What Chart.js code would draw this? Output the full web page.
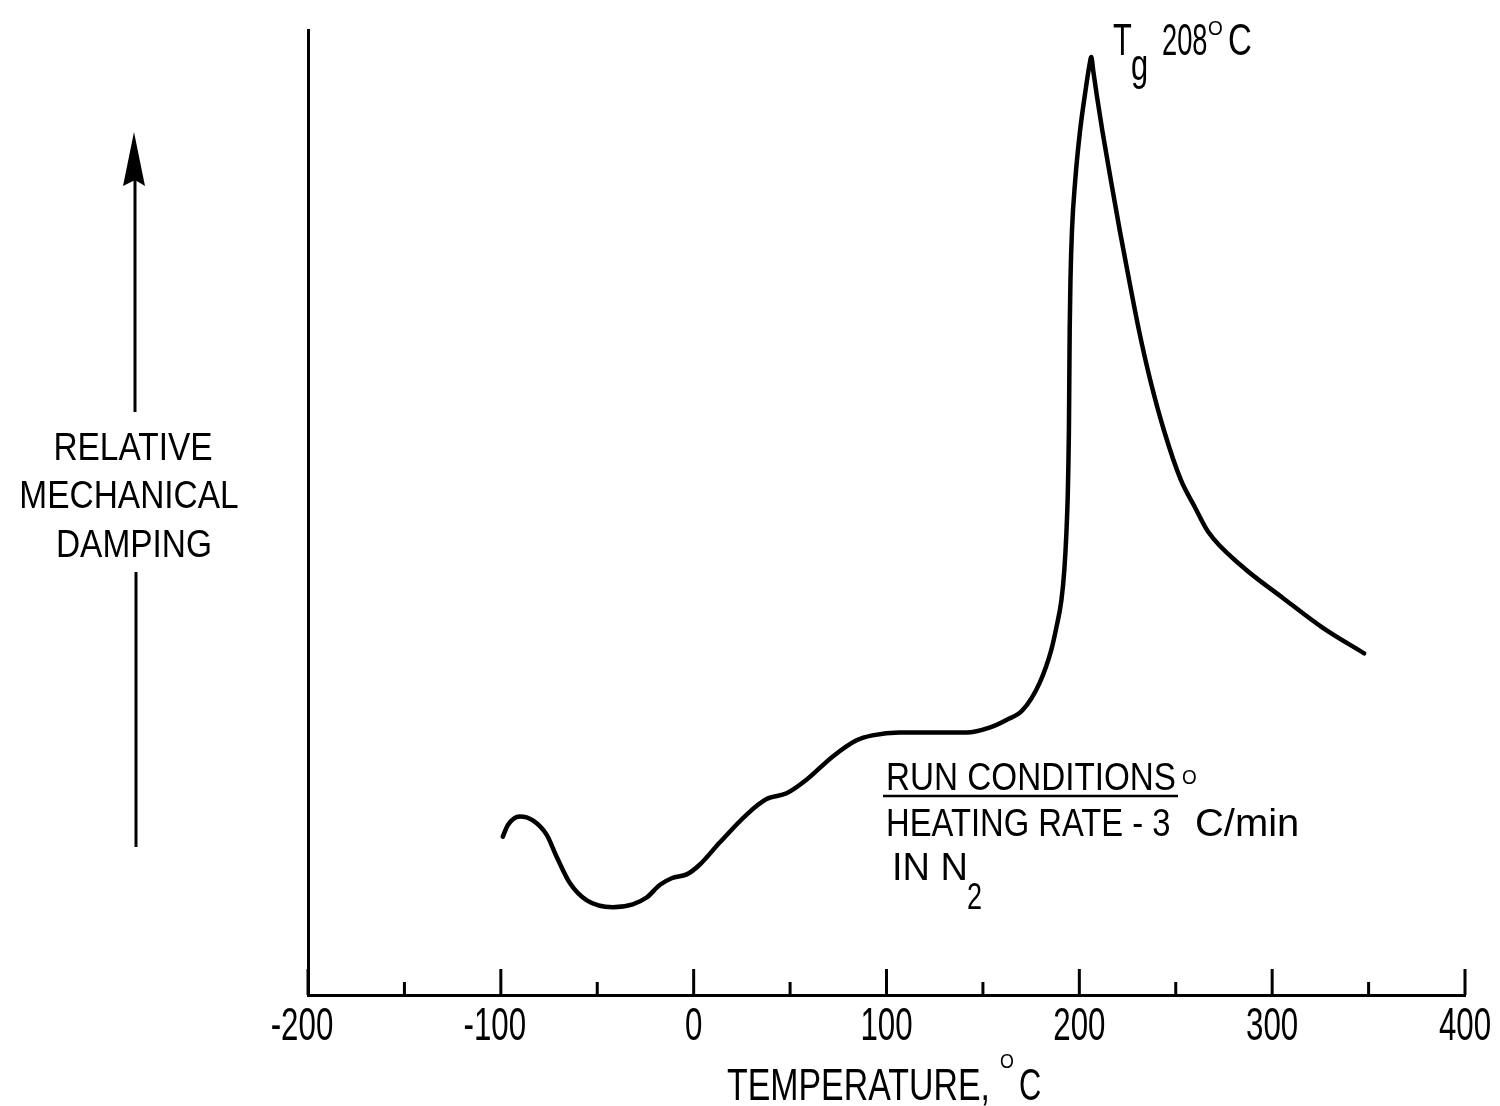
<!DOCTYPE html>
<html lang="en">
<head>
<meta charset="UTF-8">
<title>Relative mechanical damping vs temperature</title>
<script src="https://cdn.jsdelivr.net/npm/chart.js"></script>
<style>
  body { margin: 0; background: #fff; }
  canvas { display: block; }
</style>
</head>
<body>
<canvas id="dampingChart" width="1500" height="1106"></canvas>
<script>
// curve (temperature in deg C, damping in relative units 0-100)
const temperature = [-99, -96.4, -90.2, -83.4, -76.2, -71, -64.2, -55.4, -42, -31.6,
  -24.4, -17.6, -11.4, -3.6, 3.1, 13.5, 27.5, 37.8, 48.2, 58.5,
  72, 84.5, 92.7, 106.7, 123.8, 141.5, 153.4, 162.2, 170.5, 179.3,
  185.5, 188.1, 190.7, 192.2, 193.3, 194.0, 194.3, 194.6, 194.8, 195.0,
  195.4, 196.2, 197.9, 200.4, 202.9, 205.2, 206.2, 207.2, 209.0, 211.9,
  216.3, 220.9, 225.8, 230.9, 236.8, 243.9, 252.6, 259.8, 266.8, 284.5,
  305.2, 325.9, 347.7];
const damping = [16.4, 17.6, 18.5, 18.1, 16.6, 14.3, 11.6, 9.8, 9.1, 9.4,
  10.1, 11.4, 12.1, 12.5, 13.5, 15.8, 18.7, 20.3, 20.9, 22.3,
  24.7, 26.4, 26.9, 27.2, 27.2, 27.2, 27.7, 28.5, 29.5, 32.3,
  35.8, 38.1, 40.9, 44.0, 47.9, 51.8, 54.7, 58.5, 63.7, 68.9,
  74.1, 79.3, 84.5, 89.6, 93.3, 96.3, 97.2, 95.8, 93.3, 89.6,
  84.5, 79.3, 74.1, 68.9, 63.7, 58.5, 53.4, 50.6, 48.0, 44.4,
  41.2, 38.1, 35.4];
const tickLabels = ['-200', '-100', '0', '100', '200', '300', '400'];

const FONT = '"Liberation Sans", Arial, sans-serif';

// draw horizontally squeezed text (the original uses a condensed face)
function txt(ctx, s, x, y, size, sx, align) {
    ctx.save();
    ctx.font = size + 'px ' + FONT;
    ctx.fillStyle = '#000';
    ctx.textBaseline = 'alphabetic';
    ctx.textAlign = align || 'left';
    ctx.translate(x, y);
    ctx.scale(sx, 1);
    ctx.fillText(s, 0, 0);
    const w = ctx.measureText(s).width * sx;
    ctx.restore();
    return w;
}

const decorations = {
    id: 'decorations',
    afterDraw(chart) {
        const ctx = chart.ctx;
        const xs = chart.scales.x;
        const bottom = chart.chartArea.bottom;

        // tick marks point up into the plot, long every 100, short every 50
        ctx.save();
        ctx.strokeStyle = '#000';
        ctx.lineWidth = 3;
        xs.ticks.forEach(t => {
            const px = xs.getPixelForValue(t.value);
            const len = t.value % 100 === 0 ? 26 : 13;
            ctx.beginPath();
            ctx.moveTo(px, bottom);
            ctx.lineTo(px, bottom - len);
            ctx.stroke();
        });
        ctx.restore();

        xs.ticks.forEach(t => {
            const label = String(t.value);
            if (!tickLabels.includes(label)) return;
            const shift = t.value < 0 ? -6 : 0;
            txt(ctx, label, xs.getPixelForValue(t.value) + shift, 1040, 46, 0.68, 'center');
        });

        // x axis title
        txt(ctx, 'TEMPERATURE,', 727, 1100, 44, 0.77);
        txt(ctx, 'O', 1000, 1068, 21, 0.85);
        txt(ctx, 'C', 1019, 1100, 44, 0.7);

        // y label with arrow
        txt(ctx, 'RELATIVE', 133, 460, 38, 0.88, 'center');
        txt(ctx, 'MECHANICAL', 129, 508, 38, 0.88, 'center');
        txt(ctx, 'DAMPING', 134, 557, 38, 0.88, 'center');
        ctx.save();
        ctx.strokeStyle = '#000';
        ctx.lineWidth = 3;
        ctx.beginPath();
        ctx.moveTo(135, 180); ctx.lineTo(135, 412);
        ctx.moveTo(136, 572); ctx.lineTo(136, 847);
        ctx.stroke();
        ctx.beginPath();
        ctx.moveTo(134, 132);
        ctx.lineTo(145, 186);
        ctx.lineTo(135, 180);
        ctx.lineTo(123, 186);
        ctx.closePath();
        ctx.fillStyle = '#000';
        ctx.fill();
        ctx.restore();

        // glass transition label
        txt(ctx, 'T', 1113, 55, 44, 0.7);
        txt(ctx, 'g', 1131, 80, 44, 0.7);
        txt(ctx, '208', 1162, 55, 44, 0.62);
        txt(ctx, 'O', 1208, 35, 20, 0.95);
        txt(ctx, 'C', 1228, 55, 44, 0.75);

        // run conditions note
        const w = txt(ctx, 'RUN CONDITIONS', 886, 790, 38, 0.875);
        ctx.save();
        ctx.strokeStyle = '#000';
        ctx.lineWidth = 2.5;
        ctx.beginPath();
        ctx.moveTo(883, 796);
        ctx.lineTo(886 + w + 2, 796);
        ctx.stroke();
        ctx.restore();
        txt(ctx, 'O', 1182, 784, 21, 0.9);
        txt(ctx, 'HEATING RATE - 3', 886, 836, 38, 0.862);
        txt(ctx, 'C/min', 1195, 836, 38, 1.05);
        txt(ctx, 'IN N', 892, 880, 38, 1.0);
        txt(ctx, '2', 967, 909, 36, 0.75);
    }
};

const ctx = document.getElementById('dampingChart').getContext('2d');
const dampingChart = new Chart(ctx, {
    type: 'line',
    data: {
        datasets: [{
            data: temperature.map((t, i) => ({ x: t, y: damping[i] })),
            borderColor: '#000',
            borderWidth: 4.5,
            pointRadius: 0,
            fill: false,
            cubicInterpolationMode: 'monotone',
            borderCapStyle: 'round',
            borderJoinStyle: 'round'
        }]
    },
    options: {
        responsive: false,
        animation: false,
        events: [],
        layout: { padding: { top: 30, right: 35, left: 0, bottom: 0 } },
        plugins: { legend: { display: false }, tooltip: { enabled: false } },
        scales: {
            x: {
                type: 'linear',
                min: -200,
                max: 400,
                ticks: { display: false, stepSize: 50 },
                grid: { display: false },
                border: { display: true, color: '#000', width: 3 },
                afterFit: s => { s.height = 111; }
            },
            y: {
                min: 0,
                max: 100,
                ticks: { display: false },
                grid: { display: false },
                border: { display: true, color: '#000', width: 3 },
                afterFit: s => { s.width = 308; }
            }
        }
    },
    plugins: [decorations]
});
</script>
</body>
</html>
